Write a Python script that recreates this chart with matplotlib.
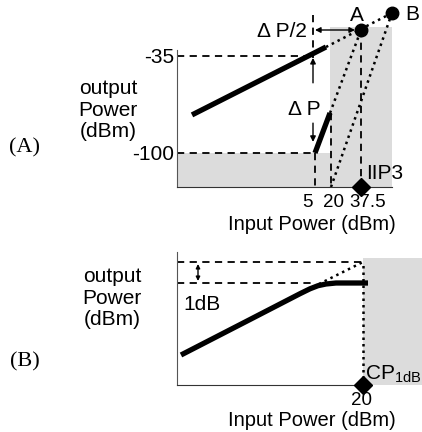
import matplotlib
matplotlib.use("Agg")
import matplotlib.pyplot as plt

plt.rcParams["font.family"] = ["Liberation Sans", "DejaVu Sans"]

W, H = 422, 432
GRAY = "#dcdcdc"

# ---- panel A (x: schematic input units, y: output power in dBm) ----
a_xlim = (177, 392)
a_ylim = (-122.8, 2.5)
a_yticks = [-35, -100]
a_yticklabels = ["-35", "-100"]
a_xticks = [307, 333, 368]
a_xticklabels = ["5", "20", "37.5"]

fund_x = [192, 326]          # fundamental (slope 1)
fund_y = [-74.5, -29.0]
im3_x = [315, 330]           # third-order product (slope 3)
im3_y = [-100, -73.2]
fund_ext_x = [326, 392]
fund_ext_y = [-29.0, -6.2]
im3_ext_x = [330, 361]
im3_ext_y = [-73.2, -17.6]
b_line_x = [331, 392]
b_line_y = [-122.8, -6.2]
pt_A = (361, -17.6)
pt_B = (392, -6.2)

# ---- panel B (x: schematic input units, y: schematic output units) ----
b_xlim = (177, 422)
b_ylim = (0, 145)
b_xticks = [361]
b_xticklabels = ["20"]
comp_x = [181, 250, 300, 310, 318, 326, 336, 350, 368]
comp_y = [30, 65.5, 91.3, 96.2, 99.3, 101, 102, 102, 102]
lin_ext_x = [313, 363]
lin_ext_y = [98, 123]
level_lin = 123
level_comp = 102


def place(x0, x1, y0, y1):
    # pixel box -> figure fraction
    return [x0 / W, 1 - y1 / H, (x1 - x0) / W, (y1 - y0) / H]


fig = plt.figure(figsize=(W / 100, H / 100), dpi=100)

# ================= panel A =================
ax = fig.add_axes(place(177, 392, 0, 187))
ax.set_xlim(*a_xlim)
ax.set_ylim(*a_ylim)
for s in ["top", "right"]:
    ax.spines[s].set_visible(False)
ax.spines["left"].set_bounds(a_ylim[0], -31)
ax.spines["left"].set_color("#555555")
ax.spines["bottom"].set_color("#333333")

ax.fill_between([177, 392], a_ylim[0], -100, color=GRAY, lw=0, zorder=0)
ax.fill_between([330, 392], a_ylim[0], -15.6, color=GRAY, lw=0, zorder=0)

dash = dict(color="black", lw=1.3, ls=(0, (4, 3)), clip_on=False)
ax.plot([177, 307], [-35, -35], **dash)
ax.plot([177, 315], [-100, -100], **dash)
ax.plot([313, 313], [-7.5, -36.5], **dash)
ax.plot([315, 315], [-100, a_ylim[0]], **dash)
ax.plot([331, 331], [-73.2, a_ylim[0]], **dash)
ax.plot([361, 361], [pt_A[1], a_ylim[0]], **dash)

dot = dict(color="black", lw=1.8, ls=(0, (1, 1.6)), clip_on=False)
ax.plot(fund_ext_x, fund_ext_y, **dot)
ax.plot(im3_ext_x, im3_ext_y, **dot)
ax.plot(b_line_x, b_line_y, **dot)

ax.plot(fund_x, fund_y, color="black", lw=3.8, solid_capstyle="butt")
ax.plot(im3_x, im3_y, color="black", lw=3.8, solid_capstyle="butt")

ax.plot(*pt_A, "o", color="black", ms=9, clip_on=False, zorder=5)
ax.plot(*pt_B, "o", color="black", ms=9, clip_on=False, zorder=5)
ax.plot(361, a_ylim[0], "D", color="black", ms=9, clip_on=False, zorder=5)

arr = dict(arrowstyle="-|>", color="black", lw=1, mutation_scale=8,
           shrinkA=0, shrinkB=0)
ax.annotate("", xy=(355, pt_A[1]), xytext=(315, pt_A[1]),
            arrowprops=dict(arr, arrowstyle="<|-|>"), annotation_clip=False)
ax.annotate("", xy=(313, -36.3), xytext=(313, -53), arrowprops=arr)
ax.annotate("", xy=(313, -92.6), xytext=(313, -80), arrowprops=arr)

fs = 15
ax.text(307, pt_A[1] - 1, "\u0394 P/2", ha="right", va="center", fontsize=fs)
ax.text(321, -71, "\u0394 P", ha="right", va="center", fontsize=fs)
ax.text(357, -8, "A", ha="center", va="center", fontsize=fs)
ax.text(412, -7, "B", ha="center", va="center", fontsize=fs, clip_on=False)
ax.text(366, -114, "IIP3", ha="left", va="center", fontsize=fs)

ax.set_yticks(a_yticks)
ax.set_yticklabels(a_yticklabels, fontsize=fs)
ax.set_xticks(a_xticks)
ax.set_xticklabels(a_xticklabels, fontsize=13.5)
ax.tick_params(length=0, pad=2)
ax.tick_params(axis="x", pad=5)

# ================= panel B =================
bx = fig.add_axes(place(177, 422, 240, 385))
bx.set_xlim(*b_xlim)
bx.set_ylim(*b_ylim)
for s in ["top", "right"]:
    bx.spines[s].set_visible(False)
bx.spines["left"].set_bounds(0, 133)
bx.spines["left"].set_color("#555555")
bx.spines["bottom"].set_bounds(177, 363)
bx.spines["bottom"].set_color("#333333")

bx.fill_between([363, 422], 0, 127, color=GRAY, lw=0, zorder=0)

bx.plot([177, 363], [level_lin, level_lin], **dash)
bx.plot([177, 315], [level_comp, level_comp], **dash)
bx.plot(lin_ext_x, lin_ext_y, **dot)
bx.plot([363, 363], [0, level_lin], **dot)
bx.plot(comp_x, comp_y, color="black", lw=3.8, solid_capstyle="butt")
bx.plot(363, 0, "D", color="black", ms=9, clip_on=False, zorder=5)

bx.annotate("", xy=(198, level_lin - 2), xytext=(198, level_comp + 2),
            arrowprops=dict(arr, arrowstyle="<|-|>", mutation_scale=6))
bx.text(183, 80, "1dB", ha="left", va="center", fontsize=fs)
bx.text(365, 11, r"CP$_{\mathregular{1dB}}$", ha="left", va="center",
        fontsize=fs)

bx.set_yticks([])
bx.set_xticks(b_xticks)
bx.set_xticklabels(b_xticklabels, fontsize=13.5)
bx.tick_params(length=0, pad=5)

# ---- labels outside axes ----
def ftext(x, y, s, **kw):
    fig.text(x / W, 1 - y / H, s, **kw)

ftext(312, 224, "Input Power (dBm)", ha="center", va="center", fontsize=14.5)
ftext(312, 421, "Input Power (dBm)", ha="center", va="center", fontsize=14.5)
ftext(108, 110, "output\nPower\n(dBm)", ha="center", va="center",
      fontsize=fs, linespacing=1.15)
ftext(112, 298, "output\nPower\n(dBm)", ha="center", va="center",
      fontsize=fs, linespacing=1.15)
ftext(25, 148, "(A)", ha="center", va="center", fontsize=16,
      family="Liberation Serif")
ftext(25, 362, "(B)", ha="center", va="center", fontsize=16,
      family="Liberation Serif")

fig.savefig("out.png", dpi=100)
